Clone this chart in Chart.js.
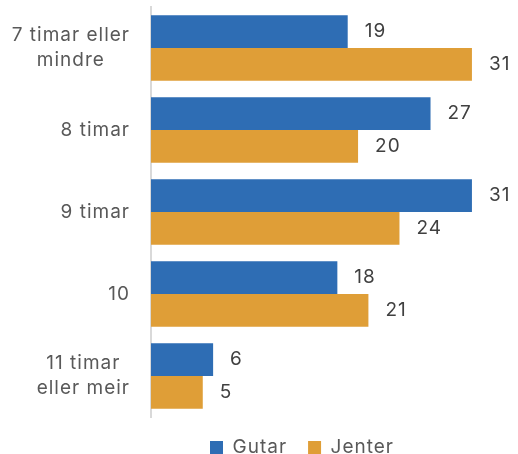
<!DOCTYPE html>
<html><head><meta charset="utf-8">
<script src="https://cdn.jsdelivr.net/npm/chart.js@4/dist/chart.umd.min.js"></script>
<style>html,body{margin:0;padding:0;background:#fff}#w{width:518px;height:454px}</style>
</head><body><div id="w"><canvas id="c"></canvas></div>
<script>
const categories = [["7 timar eller","mindre"],"8 timar","9 timar","10",["11 timar","eller meir"]];
const gutar = [19,27,31,18,6];
const jenter = [31,20,24,21,5];
const seriesNames = ["Gutar","Jenter"];
const FONT = "Inter, 'Open Sans', sans-serif";
const FS = 19;
const LS = "1px";
const spacingPlugin = {
  id:'spacing',
  beforeUpdate(chart){ chart.ctx.letterSpacing = LS; },
  beforeLayout(chart){ chart.ctx.letterSpacing = LS; },
  beforeDraw(chart){ chart.ctx.letterSpacing = LS; }
};
const labelPlugin = {
  id:'vlabels',
  afterDatasetsDraw(chart){
    const ctx = chart.ctx;
    ctx.save();
    ctx.letterSpacing = LS;
    ctx.font = FS + "px " + FONT;
    ctx.fillStyle = "#404040";
    ctx.textBaseline = "middle";
    ctx.textAlign = "left";
    chart.data.datasets.forEach((ds,i)=>{
      chart.getDatasetMeta(i).data.forEach((bar,j)=>{
        ctx.fillText(String(ds.data[j]), bar.x + 17, bar.y);
      });
    });
    // category labels: block right-aligned, lines centered
    const ys = chart.scales.y;
    const right = ys.right - 21;
    const lh = FS * 1.3;
    ctx.fillStyle = "#595959";
    ctx.textAlign = "center";
    chart.data.labels.forEach((lab,j)=>{
      const lines = Array.isArray(lab) ? lab : [lab];
      const w = Math.max(...lines.map(l=>ctx.measureText(l).width));
      const cx = right - w/2;
      const cy = ys.getPixelForValue(j);
      lines.forEach((l,k)=>{
        ctx.fillText(l, cx, cy + (k - (lines.length-1)/2)*lh);
      });
    });
    ctx.restore();
  }
};
new Chart(document.getElementById('c'),{
  type:'bar',
  data:{labels:categories,datasets:[
    {label:seriesNames[0],data:gutar,backgroundColor:'#2E6DB4',borderWidth:0},
    {label:seriesNames[1],data:jenter,backgroundColor:'#DF9E37',borderWidth:0}
  ]},
  options:{
    indexAxis:'y',responsive:true,maintainAspectRatio:false,animation:false,
    layout:{padding:{top:7,right:15,left:101,bottom:-13}},
    datasets:{bar:{categoryPercentage:0.8,barPercentage:1.0}},
    scales:{
      x:{display:false,min:0,max:34},
      y:{grid:{display:false},border:{display:true,color:'#d9d9d9',width:2},
        ticks:{display:false},
        afterFit(s){ s.width = 50; }}
    },
    plugins:{
      legend:{position:'bottom',labels:{color:'#595959',font:{family:FONT,size:FS},boxWidth:13,boxHeight:13,padding:21}},
      tooltip:{enabled:false}
    }
  },
  plugins:[spacingPlugin,labelPlugin]
});
</script></body></html>
